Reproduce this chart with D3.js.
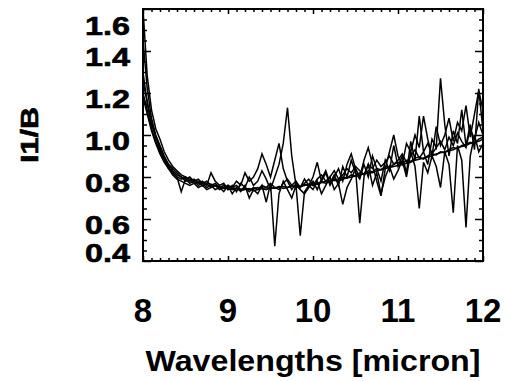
<!DOCTYPE html>
<html>
<head>
<meta charset="utf-8">
<script src="https://cdn.jsdelivr.net/npm/d3@7"></script>
<style>
    body { margin: 0; background: #fff; }
    svg { display: block; }
</style>
</head>
<body>
<svg id="ratio-plot"></svg>
<script>
var wavelengths = [
    8.00, 8.05, 8.10, 8.15, 8.20, 8.25, 8.30, 8.35, 8.40, 8.45,
    8.50, 8.55, 8.60, 8.65, 8.70, 8.75, 8.80, 8.85, 8.90, 8.95,
    9.00, 9.05, 9.10, 9.15, 9.20, 9.25, 9.30, 9.35, 9.40, 9.45,
    9.50, 9.55, 9.60, 9.65, 9.70, 9.75, 9.80, 9.85, 9.90, 9.95,
    10.00, 10.05, 10.10, 10.15, 10.20, 10.25, 10.30, 10.35, 10.40, 10.45,
    10.50, 10.55, 10.60, 10.65, 10.70, 10.75, 10.80, 10.85, 10.90, 10.95,
    11.00, 11.05, 11.10, 11.15, 11.20, 11.25, 11.30, 11.35, 11.40, 11.45,
    11.50, 11.55, 11.60, 11.65, 11.70, 11.75, 11.80, 11.85, 11.90, 11.95,
    12.00
]

var ratio1 = [
    1.60, 1.28, 1.12, 1.03, 0.98, 0.92, 0.88, 0.85, 0.83, 0.81,
    0.80, 0.79, 0.785, 0.78, 0.775, 0.77, 0.765, 0.76, 0.755, 0.75,
    0.75, 0.745, 0.745, 0.74, 0.745, 0.74, 0.745, 0.75, 0.745, 0.75,
    0.745, 0.75, 0.75, 0.755, 0.75, 0.755, 0.76, 0.755, 0.76, 0.765,
    0.76, 0.77, 0.775, 0.77, 0.78, 0.785, 0.78, 0.79, 0.795, 0.80,
    0.805, 0.81, 0.815, 0.82, 0.82, 0.83, 0.835, 0.84, 0.845, 0.85,
    0.855, 0.86, 0.865, 0.87, 0.88, 0.885, 0.89, 0.895, 0.90, 0.91,
    0.915, 0.92, 0.925, 0.93, 0.94, 0.945, 0.95, 0.96, 0.965, 0.97,
    0.98
]

var ratio2 = [
    1.45, 1.22, 1.08, 1.00, 0.95, 0.90, 0.86, 0.83, 0.81, 0.80,
    0.78, 0.785, 0.77, 0.775, 0.76, 0.765, 0.755, 0.76, 0.75, 0.745,
    0.75, 0.74, 0.745, 0.735, 0.74, 0.745, 0.735, 0.74, 0.745, 0.74,
    0.75, 0.745, 0.755, 0.745, 0.75, 0.76, 0.75, 0.755, 0.765, 0.76,
    0.77, 0.765, 0.775, 0.78, 0.775, 0.79, 0.785, 0.80, 0.795, 0.81,
    0.805, 0.82, 0.815, 0.83, 0.825, 0.84, 0.835, 0.85, 0.845, 0.86,
    0.87, 0.865, 0.88, 0.875, 0.89, 0.895, 0.885, 0.90, 0.91, 0.905,
    0.92, 0.915, 0.93, 0.94, 0.935, 0.95, 0.955, 0.965, 0.96, 0.98,
    0.99
]

var ratio3 = [
    1.30, 1.15, 1.05, 0.99, 0.93, 0.89, 0.85, 0.82, 0.80, 0.79,
    0.80, 0.78, 0.79, 0.77, 0.78, 0.76, 0.82, 0.78, 0.76, 0.77,
    0.74, 0.76, 0.73, 0.77, 0.75, 0.80, 0.76, 0.78, 0.83, 0.79,
    0.74, 0.80, 0.86, 0.96, 1.13, 0.90, 0.76, 0.74, 0.72, 0.75,
    0.78, 0.74, 0.79, 0.83, 0.77, 0.81, 0.76, 0.85, 0.80, 0.88,
    0.82, 0.79, 0.86, 0.80, 0.90, 0.84, 0.78, 0.88, 0.83, 0.95,
    0.85, 0.90, 0.82, 0.97, 0.88, 1.09, 0.92, 0.86, 0.98, 0.94,
    1.27, 1.05, 0.90, 1.02, 0.96, 1.12, 0.95, 1.05, 0.93, 1.22,
    1.02
]

var ratio4 = [
    1.20, 1.12, 1.03, 0.97, 0.92, 0.88, 0.84, 0.82, 0.80, 0.73,
    0.79, 0.77, 0.78, 0.76, 0.77, 0.75, 0.76, 0.74, 0.75, 0.73,
    0.76, 0.72, 0.75, 0.73, 0.76, 0.70, 0.74, 0.72, 0.76, 0.68,
    0.77, 0.47, 0.72, 0.78, 0.74, 0.70, 0.76, 0.52, 0.73, 0.76,
    0.74, 0.78, 0.72, 0.76, 0.80, 0.74, 0.77, 0.67, 0.75, 0.79,
    0.84, 0.58, 0.80, 0.86, 0.76, 0.82, 0.72, 0.80, 0.85, 0.79,
    0.83, 0.88, 0.80, 0.92, 0.85, 0.65, 0.87, 0.82, 0.90, 0.85,
    0.75, 0.92, 0.86, 0.63, 0.95, 0.88, 0.56, 0.90, 1.00, 0.92,
    0.96
]

var ratio5 = [
    1.18, 1.10, 1.02, 0.96, 0.91, 0.87, 0.84, 0.81, 0.79, 0.78,
    0.77, 0.76, 0.77, 0.75, 0.76, 0.74, 0.75, 0.76, 0.74, 0.75,
    0.76, 0.75, 0.78, 0.76, 0.82, 0.78, 0.80, 0.84, 0.91, 0.86,
    0.80, 0.88, 0.96, 0.84, 0.78, 0.74, 0.77, 0.75, 0.79, 0.76,
    0.80, 0.87, 0.78, 0.82, 0.76, 0.80, 0.84, 0.78, 0.86, 0.91,
    0.84, 0.80, 0.88, 0.94, 0.86, 0.78, 0.71, 0.84, 0.92, 1.00,
    0.90, 0.86, 0.96, 0.92, 1.00, 0.94, 1.09, 0.98, 0.90, 1.04,
    0.95, 1.00, 1.08, 0.97, 1.06, 1.02, 1.14, 0.99, 1.10, 1.21,
    1.12
]

var ratio6 = [
    1.25, 1.16, 1.06, 0.99, 0.94, 0.89, 0.86, 0.84, 0.82, 0.80,
    0.79, 0.80, 0.78, 0.79, 0.77, 0.78, 0.76, 0.77, 0.75, 0.76,
    0.74, 0.75, 0.76, 0.74, 0.75, 0.73, 0.75, 0.74, 0.76, 0.75,
    0.77, 0.75, 0.74, 0.77, 0.79, 0.76, 0.78, 0.75, 0.77, 0.79,
    0.76, 0.79, 0.81, 0.78, 0.80, 0.83, 0.79, 0.81, 0.84, 0.82,
    0.85, 0.83, 0.81, 0.86, 0.84, 0.88, 0.85, 0.87, 0.90, 0.86,
    0.88, 0.91, 0.87, 0.90, 0.93, 0.89, 0.92, 0.96, 0.91, 0.94,
    0.97, 0.93, 0.99, 0.95, 1.01, 0.97, 0.94, 1.03, 0.98, 1.06,
    1.00
]

var xTicks = [8, 9, 10, 11, 12]
var yTicks = [0.4, 0.6, 0.8, 1.0, 1.2, 1.4, 1.6]

var dimensions = {
    width: 506,
    height: 381,
    margin: {
        top: 9,
        bottom: 120,
        right: 23,
        left: 143
    }
}

var svg = d3.select("#ratio-plot")
    .attr("width", dimensions.width)
    .attr("height", dimensions.height)

var xScale = d3.scaleLinear()
    .domain([8, 12])
    .range([dimensions.margin.left, dimensions.width - dimensions.margin.right])

var yScale = d3.scaleLinear()
    .domain([0.4, 1.6])
    .range([dimensions.height - dimensions.margin.bottom, dimensions.margin.top])

var plotTop = yScale.range()[1]
var plotBottom = yScale.range()[0]
var plotLeft = xScale.range()[0]
var plotRight = xScale.range()[1]

var series = [ratio1, ratio2, ratio3, ratio4, ratio5, ratio6]

var line = d3.line()
    .x(function (d, i) { return xScale(wavelengths[i]) })
    .y(function (d) { return yScale(d) })

svg.append("defs")
    .append("clipPath")
    .attr("id", "plot-clip")
    .append("rect")
    .attr("x", plotLeft)
    .attr("y", plotTop)
    .attr("width", plotRight - plotLeft)
    .attr("height", plotBottom - plotTop)

svg.append("g")
    .attr("clip-path", "url(#plot-clip)")
    .selectAll("path")
    .data(series)
    .enter()
    .append("path")
    .attr("fill", "none")
    .attr("stroke", "black")
    .attr("stroke-width", 1.5)
    .attr("stroke-linejoin", "miter")
    .attr("d", line)

// minor tick values
var xMinor = xScale.ticks(40).filter(function (d) { return xTicks.indexOf(d) < 0 })
var yMinor = yScale.ticks(24).filter(function (d) {
    return !yTicks.some(function (t) { return Math.abs(t - d) < 1e-6 })
})

function styleAxis(g) {
    g.select(".domain").remove()
    g.selectAll("line").attr("stroke", "black").attr("stroke-width", 1.5)
}

// inward ticks on all four sides
svg.append("g")
    .attr("transform", "translate(0," + plotBottom + ")")
    .call(d3.axisTop(xScale).tickValues(xTicks).tickSize(5).tickFormat(""))
    .call(styleAxis)
svg.append("g")
    .attr("transform", "translate(0," + plotBottom + ")")
    .call(d3.axisTop(xScale).tickValues(xMinor).tickSize(3).tickFormat(""))
    .call(styleAxis)
svg.append("g")
    .attr("transform", "translate(0," + plotTop + ")")
    .call(d3.axisBottom(xScale).tickValues(xTicks).tickSize(5).tickFormat(""))
    .call(styleAxis)
svg.append("g")
    .attr("transform", "translate(0," + plotTop + ")")
    .call(d3.axisBottom(xScale).tickValues(xMinor).tickSize(3).tickFormat(""))
    .call(styleAxis)

svg.append("g")
    .attr("transform", "translate(" + plotLeft + ",0)")
    .call(d3.axisRight(yScale).tickValues(yTicks).tickSize(8).tickFormat(""))
    .call(styleAxis)
svg.append("g")
    .attr("transform", "translate(" + plotLeft + ",0)")
    .call(d3.axisRight(yScale).tickValues(yMinor).tickSize(4).tickFormat(""))
    .call(styleAxis)
svg.append("g")
    .attr("transform", "translate(" + plotRight + ",0)")
    .call(d3.axisLeft(yScale).tickValues(yTicks).tickSize(8).tickFormat(""))
    .call(styleAxis)
svg.append("g")
    .attr("transform", "translate(" + plotRight + ",0)")
    .call(d3.axisLeft(yScale).tickValues(yMinor).tickSize(4).tickFormat(""))
    .call(styleAxis)

// frame
svg.append("rect")
    .attr("x", plotLeft)
    .attr("y", plotTop)
    .attr("width", plotRight - plotLeft)
    .attr("height", plotBottom - plotTop)
    .attr("fill", "none")
    .attr("stroke", "black")
    .attr("stroke-width", 2)

// x tick labels
svg.append("g")
    .selectAll("text")
    .data(xTicks)
    .enter()
    .append("text")
    .attr("x", function (d) { return xScale(d) })
    .attr("y", plotBottom + 61)
    .attr("text-anchor", "middle")
    .style("font", "bold 33px 'Liberation Sans', Arial, sans-serif")
    .text(function (d) { return d })

// y tick labels, kept inside the frame height like the original
svg.append("g")
    .selectAll("text")
    .data(yTicks)
    .enter()
    .append("text")
    .attr("x", plotLeft - 13)
    .attr("y", function (d) {
        var c = Math.min(Math.max(yScale(d) + 6, plotTop + 17), plotBottom - 8)
        return c + 9
    })
    .attr("text-anchor", "end")
    .attr("textLength", 45)
    .attr("lengthAdjust", "spacingAndGlyphs")
    .style("font", "bold 26px 'Liberation Sans', Arial, sans-serif")
    .style("stroke", "black")
    .style("stroke-width", 0.6)
    .text(function (d) { return d.toFixed(1) })

svg.append("text")
    .attr("x", (plotLeft + plotRight) / 2)
    .attr("y", 371)
    .attr("text-anchor", "middle")
    .attr("textLength", 335)
    .attr("lengthAdjust", "spacingAndGlyphs")
    .style("font", "bold 30px 'Liberation Sans', Arial, sans-serif")
    .text("Wavelengths [micron]")

svg.append("text")
    .attr("transform", "translate(38," + ((plotTop + plotBottom) / 2) + ") rotate(-90)")
    .attr("text-anchor", "middle")
    .attr("textLength", 56)
    .attr("lengthAdjust", "spacingAndGlyphs")
    .style("font", "bold 23px 'Liberation Sans', Arial, sans-serif")
    .style("stroke", "black")
    .style("stroke-width", 0.6)
    .text("I1/B")
</script>
</body>
</html>
